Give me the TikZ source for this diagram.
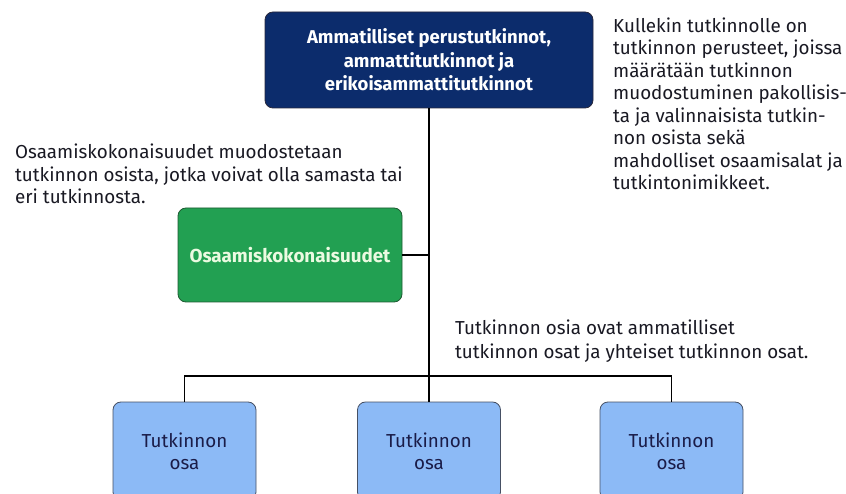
\documentclass[tikz,border=0pt]{standalone}
\usepackage{fontspec}
\setmainfont{Fira Sans}
\definecolor{navy}{RGB}{12,44,108}
\definecolor{navyedge}{RGB}{40,40,60}
\definecolor{grn}{RGB}{34,160,82}
\definecolor{grnedge}{RGB}{30,90,50}
\definecolor{lblue}{RGB}{140,186,246}
\definecolor{bedge}{RGB}{70,80,100}
\definecolor{boxtext}{RGB}{26,28,72}
\definecolor{ann}{RGB}{25,25,35}
\tikzset{
  topbox/.style={draw=navyedge, line width=0.8pt, fill=navy, rounded corners=8pt, minimum width=328pt, minimum height=96pt, inner sep=0pt, align=center, text=white, font=\fontsize{18.5}{23.5}\selectfont\bfseries},
  grnbox/.style={draw=grnedge, line width=0.8pt, fill=grn, rounded corners=8pt, minimum width=224pt, minimum height=94pt, inner sep=0pt, align=center, text={rgb,255:red,235;green,250;blue,225}, font=\fontsize{18.8}{22}\selectfont\bfseries},
  partbox/.style={draw=bedge, line width=0.8pt, fill=lblue, rounded corners=8pt, minimum width=143pt, minimum height=98pt, inner sep=0pt, align=center, text=boxtext, font=\fontsize{18.8}{22}\selectfont},
  note/.style={anchor=base west, inner sep=0pt, align=left, text=ann, font=\fontsize{18.8}{22.5}\selectfont},
  conn/.style={draw=black, line width=1.6pt},
}
\begin{document}
\begin{tikzpicture}[x=1pt,y=-1pt]
\useasboundingbox (0,0) rectangle (846,494);
\clip (0,0) rectangle (846,494);
\fill[white] (0,0) rectangle (846,494);
\node[topbox] (top) at (429,60) {Ammatilliset perustutkinnot,\\ammattitutkinnot ja\\erikoisammattitutkinnot};
\node[grnbox] (g) at (290,255) {Osaamiskokonaisuudet};
\node[partbox] (l) at (184.5,451) {Tutkinnon\\osa};
\node[partbox] (m) at (429,451) {Tutkinnon\\osa};
\node[partbox] (r) at (671.5,451) {Tutkinnon\\osa};
\coordinate (hl) at (184.5,376);
\coordinate (hr) at (671.5,376);
\draw[conn] (top.south) -- (m.north);
\draw[conn] (l.north) -- (hl) -- (hr) -- (r.north);
\draw[conn] (g.east) -- (g.east -| top.south);
\node[note] (n1) at (613,190) {Kullekin tutkinnolle on\\tutkinnon perusteet, joissa\\määrätään tutkinnon\\muodostuminen pakollisis-\\ta ja valinnaisista tutkin-\\non osista sekä\\mahdolliset osaamisalat ja\\tutkintonimikkeet.};
\node[note] (n2) at (15,204) {Osaamiskokonaisuudet muodostetaan\\tutkinnon osista, jotka voivat olla samasta tai\\eri tutkinnosta.};
\node[note, font=\fontsize{18.8}{24}\selectfont] (n3) at (455,358) {Tutkinnon osia ovat ammatilliset\\tutkinnon osat ja yhteiset tutkinnon osat.};
\end{tikzpicture}
\end{document}
